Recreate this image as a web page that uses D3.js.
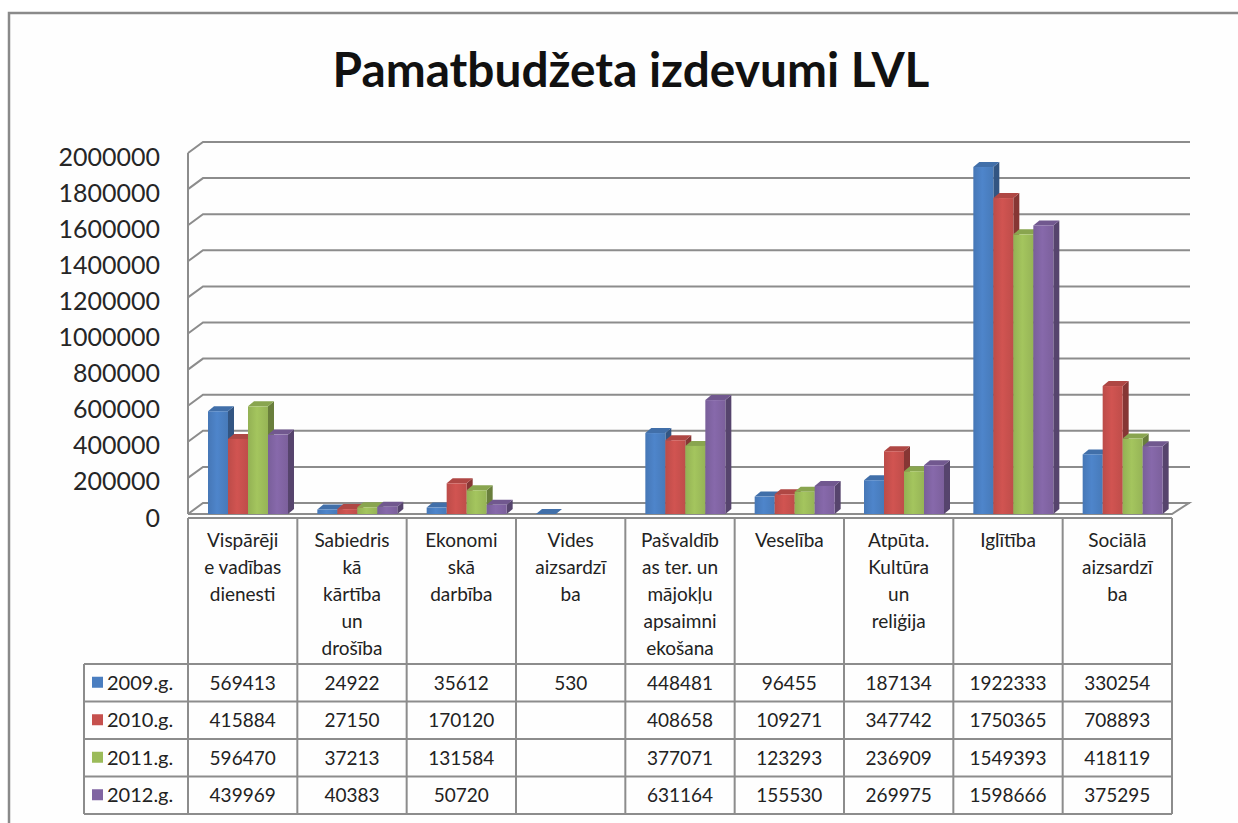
<!DOCTYPE html>
<html>
<head>
<meta charset="utf-8">
<script src="https://cdn.jsdelivr.net/npm/d3@7"></script>
<style>
  body { margin: 0; background: #fff; }
  svg { display: block; }
  text { font-family: Lato, "Noto Sans", sans-serif; fill: #222; }
</style>
</head>
<body>
<div class="chart"></div>
<script>
// chart values
let categories = ['Vispārēji e vadības dienesti', 'Sabiedriskā kārtība un drošība', 'Ekonomiskā darbība',
  'Vides aizsardzība', 'Pašvaldības ter. un mājokļu apsaimniekošana', 'Veselība',
  'Atpūta. Kultūra un reliģija', 'Iglītība', 'Sociālā aizsardzība'];
// label lines as wrapped in the picture
let categoryLines = [
  ['Vispārēji', 'e vadības', 'dienesti'],
  ['Sabiedris', 'kā', 'kārtība', 'un', 'drošība'],
  ['Ekonomi', 'skā', 'darbība'],
  ['Vides', 'aizsardzī', 'ba'],
  ['Pašvaldīb', 'as ter. un', 'mājokļu', 'apsaimni', 'ekošana'],
  ['Veselība'],
  ['Atpūta.', 'Kultūra', 'un', 'reliģija'],
  ['Iglītība'],
  ['Sociālā', 'aizsardzī', 'ba']
];
let years = ['2009.g.', '2010.g.', '2011.g.', '2012.g.'];
let values2009 = [569413, 24922, 35612, 530, 448481, 96455, 187134, 1922333, 330254];
let values2010 = [415884, 27150, 170120, null, 408658, 109271, 347742, 1750365, 708893];
let values2011 = [596470, 37213, 131584, null, 377071, 123293, 236909, 1549393, 418119];
let values2012 = [439969, 40383, 50720, null, 631164, 155530, 269975, 1598666, 375295];
let yTicks = [0, 200000, 400000, 600000, 800000, 1000000, 1200000, 1400000, 1600000, 1800000, 2000000];
let colors = ['#4a7ec0', '#c6504d', '#9bbb59', '#8064a2'];
let title = 'Pamatbudžeta izdevumi LVL';

let series = [values2009, values2010, values2011, values2012];

let width = 1238;
let height = 823;

let svg = d3.select('.chart')
  .append('svg')
  .attr('width', width)
  .attr('height', height)
  .attr('viewBox', '0 0 ' + width + ' ' + height);

// outer frame (right and bottom edge fall outside the picture)
svg.append('rect')
  .attr('x', 9).attr('y', 13)
  .attr('width', 1300).attr('height', 900)
  .attr('fill', '#fefefe')
  .attr('stroke', '#8a8a8a')
  .attr('stroke-width', 2.5);

// title, scaled to the width it takes in the picture
let titleText = svg.append('text')
  .attr('x', 631)
  .attr('y', 87)
  .attr('text-anchor', 'middle')
  .style('font-weight', 'bold')
  .style('font-size', '44px')
  .style('fill', '#111')
  .text(title);
let tw = titleText.node().getComputedTextLength();
titleText.style('font-size', (44 * 597 / tw) + 'px');

// scales
let plotLeft = 188, plotRight = 1172;
let xScale = d3.scaleBand()
  .domain(categories)
  .range([plotLeft, plotRight]);

let sScale = d3.scaleBand()
  .domain(years)
  .range([20, 100]);

let yScale = d3.scaleLinear()
  .domain([0, 2000000])
  .range([514, 153]);

// 3d offsets
let wallDx = 15, wallDy = -11;
let barDx = 6, barDy = -5;

// soft highlight on the bar fronts
let defs = svg.append('defs');
colors.forEach(function(c, i) {
  let g = defs.append('linearGradient')
    .attr('id', 'front' + i)
    .attr('x1', '0').attr('x2', '1').attr('y1', '0').attr('y2', '0');
  g.append('stop').attr('offset', '0').attr('stop-color', d3.color(c).darker(0.15));
  g.append('stop').attr('offset', '0.45').attr('stop-color', d3.color(c).brighter(0.15));
  g.append('stop').attr('offset', '1').attr('stop-color', d3.color(c).darker(0.1));
});

let grid = svg.append('g')
  .attr('stroke', '#8c8c8c')
  .attr('stroke-width', 2)
  .attr('fill', 'none');

// floor
grid.append('path')
  .attr('d', 'M' + plotLeft + ',' + yScale(0) + 'L' + plotRight + ',' + yScale(0) +
    'L' + (plotRight + 17) + ',' + (yScale(0) + wallDy) + 'L' + (plotLeft + wallDx) + ',' + (yScale(0) + wallDy));

// back wall gridlines and left wall diagonals
grid.selectAll('.gridline')
  .data(yTicks)
  .enter().append('path')
  .attr('class', 'gridline')
  .attr('d', function(d) {
    let yf = yScale(d);
    return 'M' + plotLeft + ',' + yf + 'L' + (plotLeft + wallDx) + ',' + (yf + wallDy) +
      'L' + (plotRight + 18) + ',' + (yf + wallDy);
  });

// left wall edge
grid.append('line')
  .attr('x1', plotLeft).attr('x2', plotLeft)
  .attr('y1', yScale(0)).attr('y2', yScale(2000000));

// y axis labels
let yAxis = svg.append('g')
  .attr('transform', 'translate(160, 4)')
  .call(d3.axisLeft(yScale).tickValues(yTicks).tickSize(0).tickPadding(0).tickFormat(d3.format('d')));
yAxis.select('.domain').remove();
yAxis.selectAll('text')
  .style('font-family', 'Lato, "Noto Sans", sans-serif')
  .style('font-size', '25px')
  .style('fill', '#262626');

// bars
let barData = [];
categories.forEach(function(c, i) {
  series.forEach(function(s, j) {
    if (s[i] != null) barData.push({ cat: c, year: years[j], value: s[i], color: colors[j], idx: j });
  });
});

let bars = svg.append('g').selectAll('.bar')
  .data(barData)
  .enter().append('g')
  .attr('class', 'bar');

bars.append('path')
  .attr('fill', function(d) { return d3.color(d.color).darker(1.1); })
  .attr('d', function(d) {
    let x1 = xScale(d.cat) + sScale(d.year) + sScale.bandwidth();
    let y0 = yScale(0), y1 = yScale(d.value);
    return 'M' + x1 + ',' + y0 + 'L' + (x1 + barDx) + ',' + (y0 + barDy) + 'L' + (x1 + barDx) + ',' + (y1 + barDy) + 'L' + x1 + ',' + y1 + 'Z';
  });

bars.append('path')
  .attr('fill', function(d) { return d3.color(d.color).darker(0.35); })
  .attr('d', function(d) {
    let x0 = xScale(d.cat) + sScale(d.year);
    let x1 = x0 + sScale.bandwidth();
    let y1 = yScale(d.value);
    return 'M' + x0 + ',' + y1 + 'L' + x1 + ',' + y1 + 'L' + (x1 + barDx) + ',' + (y1 + barDy) + 'L' + (x0 + barDx) + ',' + (y1 + barDy) + 'Z';
  });

bars.append('rect')
  .attr('x', function(d) { return xScale(d.cat) + sScale(d.year); })
  .attr('y', function(d) { return yScale(d.value); })
  .attr('width', sScale.bandwidth())
  .attr('height', function(d) { return yScale(0) - yScale(d.value); })
  .attr('fill', function(d) { return 'url(#front' + d.idx + ')'; });

// data table
let headerTop = 518, rowTop = 664, rowH = 37.5, legendLeft = 84;
let rowY = function(i) { return rowTop + i * rowH; };

let table = svg.append('g')
  .attr('stroke', '#8c8c8c')
  .attr('stroke-width', 2)
  .attr('fill', 'none');

table.append('line')
  .attr('x1', plotLeft).attr('x2', plotRight)
  .attr('y1', headerTop).attr('y2', headerTop);

table.selectAll('.hline')
  .data(d3.range(years.length + 1))
  .enter().append('line')
  .attr('x1', legendLeft).attr('x2', plotRight)
  .attr('y1', function(d) { return rowY(d); })
  .attr('y2', function(d) { return rowY(d); });

table.selectAll('.vline')
  .data(categories)
  .enter().append('line')
  .attr('x1', function(d) { return xScale(d); })
  .attr('x2', function(d) { return xScale(d); })
  .attr('y1', headerTop).attr('y2', rowY(years.length));

table.append('line')
  .attr('x1', plotRight).attr('x2', plotRight)
  .attr('y1', headerTop).attr('y2', rowY(years.length));

table.append('line')
  .attr('x1', legendLeft).attr('x2', legendLeft)
  .attr('y1', rowTop).attr('y2', rowY(years.length));

// category labels
svg.append('g').selectAll('.catlabel')
  .data(categories)
  .enter().append('text')
  .attr('class', 'catlabel')
  .attr('text-anchor', 'middle')
  .style('font-size', '19px')
  .each(function(d, i) {
    let t = d3.select(this);
    categoryLines[i].forEach(function(line, k) {
      t.append('tspan')
        .attr('x', xScale(d) + xScale.bandwidth() / 2)
        .attr('y', 547 + k * 27)
        .text(line);
    });
  });

// legend keys
let legend = svg.append('g').selectAll('.legend')
  .data(years)
  .enter().append('g')
  .attr('class', 'legend');

legend.append('rect')
  .attr('x', 92)
  .attr('y', function(d, i) { return rowY(i) + rowH / 2 - 6; })
  .attr('width', 11).attr('height', 11)
  .attr('fill', function(d, i) { return colors[i]; });

legend.append('text')
  .attr('x', 107)
  .attr('y', function(d, i) { return rowY(i) + rowH / 2 + 7; })
  .style('font-size', '20px')
  .text(function(d) { return d; });

// cell values
let cells = [];
series.forEach(function(s, j) {
  s.forEach(function(v, i) {
    if (v != null) cells.push({ row: j, cat: categories[i], value: v });
  });
});

svg.append('g').selectAll('.cell')
  .data(cells)
  .enter().append('text')
  .attr('class', 'cell')
  .attr('text-anchor', 'middle')
  .attr('x', function(d) { return xScale(d.cat) + xScale.bandwidth() / 2; })
  .attr('y', function(d) { return rowY(d.row) + rowH / 2 + 7; })
  .style('font-size', '19px')
  .text(function(d) { return d.value; });
</script>
</body>
</html>
